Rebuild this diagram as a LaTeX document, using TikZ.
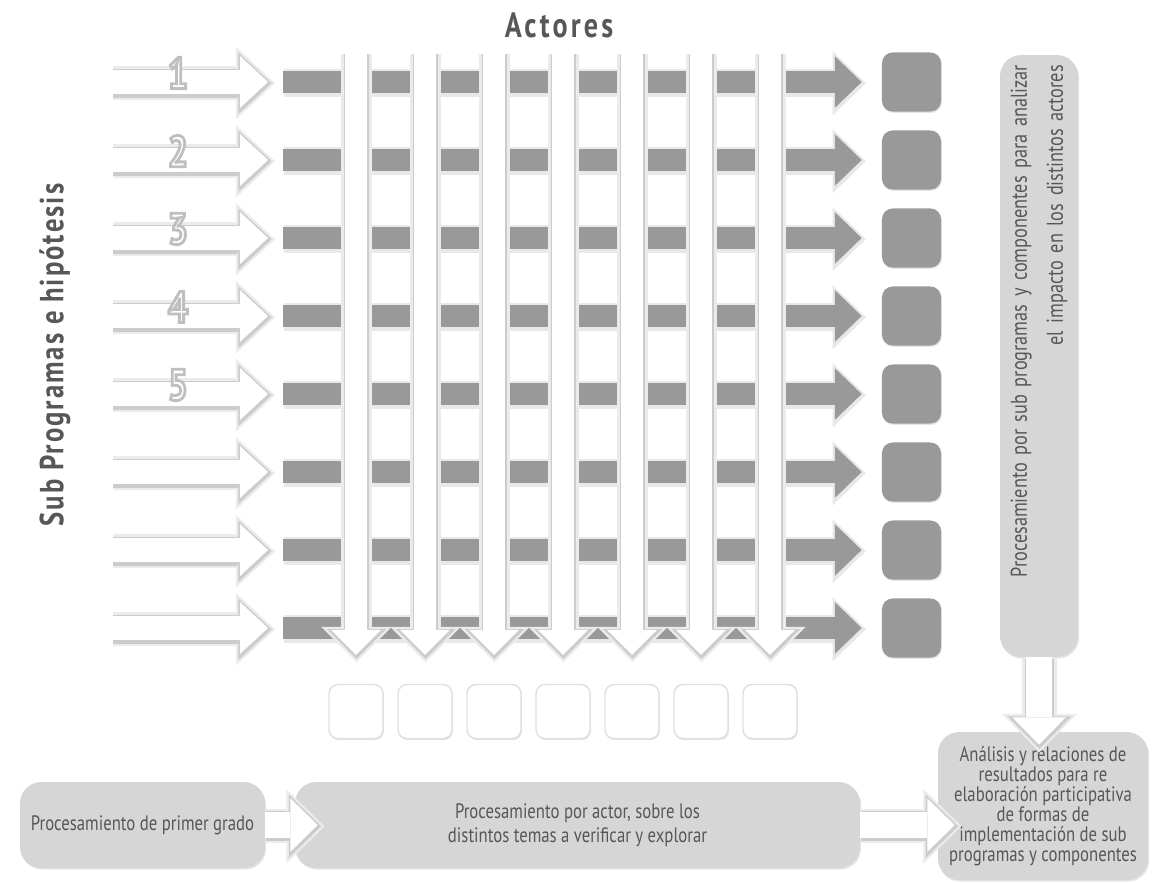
\documentclass[tikz,border=0pt]{standalone}
\usepackage{fontspec}
\setmainfont{PT Sans}[FakeStretch=0.8]
\newfontfamily\headfont{PT Sans}[FakeStretch=0.8,LetterSpace=9]
\newfontfamily\sidefont{PT Sans}[FakeStretch=0.8,LetterSpace=6]
\usetikzlibrary{arrows.meta,positioning,calc,shadows}
\definecolor{ink}{HTML}{575757}
\definecolor{panel}{HTML}{D6D6D6}
\definecolor{bar}{HTML}{999999}
\newcommand{\outlined}[1]{\special{pdf:literal direct 0.75 G 1.6 w 2 Tr}#1\special{pdf:literal direct 0 Tr}}

\begin{document}
\begin{tikzpicture}[x=0.02cm,y=-0.02cm,
lbl/.style={font=\fontsize{11.9}{13.5}\selectfont,text=ink,align=center},
panelbox/.style={fill=panel,rounded corners=12pt,drop shadow={opacity=.22,shadow xshift=.6pt,shadow yshift=-.9pt}},
gsq/.style={fill=bar,rounded corners=6pt,minimum size=33.6pt,inner sep=0pt,drop shadow={opacity=.2,shadow xshift=.5pt,shadow yshift=-.8pt}},
wsq/.style={fill=white,draw=black!12,line width=.8pt,rounded corners=5pt,minimum size=30.7pt,inner sep=0pt,drop shadow={opacity=.22,shadow xshift=.5pt,shadow yshift=-.9pt}},
inarrow/.style={
  preaction={draw=black!8,line width=19.2pt,shorten >=-3.7pt,-{Triangle[width=41pt,length=22.1pt,line width=0pt]},transform canvas={shift={(.3pt,-.7pt)}}},
  preaction={draw=black!20,line width=16.6pt,shorten >=-1.76pt,-{Triangle[width=35pt,length=18.9pt,line width=0pt]},transform canvas={shift={(.3pt,-.7pt)}}},
  draw=white,line width=14.2pt,-{Triangle[width=29.5pt,length=15.9pt,line width=0pt]}},
rowarrow/.style={
  preaction={draw=black!9,line width=16pt,shorten >=-2.16pt,-{Triangle[width=36.6pt,length=19pt,line width=0pt]},transform canvas={shift={(.3pt,-.7pt)}}},
  draw=bar,line width=13pt,-{Triangle[width=29.5pt,length=15.3pt,line width=0pt]}},
colarrow/.style={
  preaction={draw=black!8,line width=17.3pt,shorten >=-3.4pt,-{Triangle[width=40pt,length=20pt,line width=0pt]},transform canvas={shift={(.3pt,-.7pt)}}},
  preaction={draw=black!20,line width=14.7pt,shorten >=-1.56pt,-{Triangle[width=33.7pt,length=16.9pt,line width=0pt]},transform canvas={shift={(.3pt,-.7pt)}}},
  draw=white,line width=12.5pt,-{Triangle[width=28.4pt,length=14.2pt,line width=0pt]}},
flowarrow/.style={
  preaction={draw=black!8,line width=19.5pt,shorten >=-3.57pt,-{Triangle[width=42.4pt,length=21.7pt,line width=0pt]},transform canvas={shift={(.3pt,-.7pt)}}},
  preaction={draw=black!20,line width=16.9pt,shorten >=-1.71pt,-{Triangle[width=36.2pt,length=18.5pt,line width=0pt]},transform canvas={shift={(.3pt,-.7pt)}}},
  draw=white,line width=14.5pt,-{Triangle[width=30.5pt,length=15.6pt,line width=0pt]}},
num/.style={font=\bfseries\fontsize{25}{25}\selectfont,text=white,inner sep=0pt}]
\useasboundingbox (0,0) rectangle (1152,883);

\node[font=\headfont\bfseries\fontsize{20}{20}\selectfont,text=ink] (actores) at (559,25) {Actores};
\node[rotate=90,font=\sidefont\bfseries\fontsize{19}{19}\selectfont,text=ink] (subprog) at (55,355) {Sub Programas e hipótesis};

% rows and columns of the grid
\foreach \r in {1,...,8}{
  \node[gsq] (g\r) at (911.5,{82+78*(\r-1)}) {};
  \coordinate (in\r) at (112,{82+78*(\r-1)});
  \coordinate (bar\r) at (283,{82+78*(\r-1)});
}
\foreach \c in {1,...,7}{
  \node[wsq] (w\c) at ({356+69*(\c-1)},711.5) {};
  \coordinate (top\c) at ({356+69*(\c-1)},53);
}
\foreach \r in {1,...,8}
  \draw[rowarrow] (bar\r) -- ($(g\r.west)+(-20,0)$);
\foreach \c in {1,...,7}
  \draw[colarrow] (top\c) -- ($(w\c.north)+(0,-29)$);
\foreach \r in {1,...,8}
  \draw[inarrow] (in\r) -- ($(bar\r)+(-15,0)$);
\foreach \r in {1,...,5}
  \node[num] (n\r) at (178,{73+78*(\r-1)}) {\outlined{\r}};

% processing boxes
\node[panelbox,rotate=90,minimum width=342.6pt,minimum height=44.4pt,text width=331.2pt,inner xsep=5.7pt,
  align=right,text=ink,font=\fontsize{13}{20.5}\selectfont] (impacto) at (1039,356)
  {Procesamiento por sub programas y componentes para analizar\\el impacto en los distintos actores};
\node[panelbox,lbl,minimum width=139.4pt,minimum height=48.9pt] (primer) at (142.5,825) {Procesamiento de primer grado};
\node[panelbox,lbl,minimum width=321.5pt,minimum height=48.9pt] (actor) at (577.5,825)
  {Procesamiento por actor, sobre los\\distintos temas a verificar y explorar};
\node[panelbox,lbl,font=\fontsize{11.9}{11.4}\selectfont,minimum width=119.5pt,minimum height=84.2pt] (analisis) at (1043,806)
  {Análisis y relaciones de\\resultados para re\\elaboración participativa\\de formas de\\implementación de sub\\programas y componentes};

\draw[flowarrow] (primer.east) -- ($(actor.west)+(23,0)$);
\draw[flowarrow] (actor.east) -- ($(analisis.west |- actor.east)+(17,0)$);
\draw[flowarrow] (impacto.west) -- ($(impacto.west |- analisis.north)+(0,13)$);
\end{tikzpicture}
\end{document}
